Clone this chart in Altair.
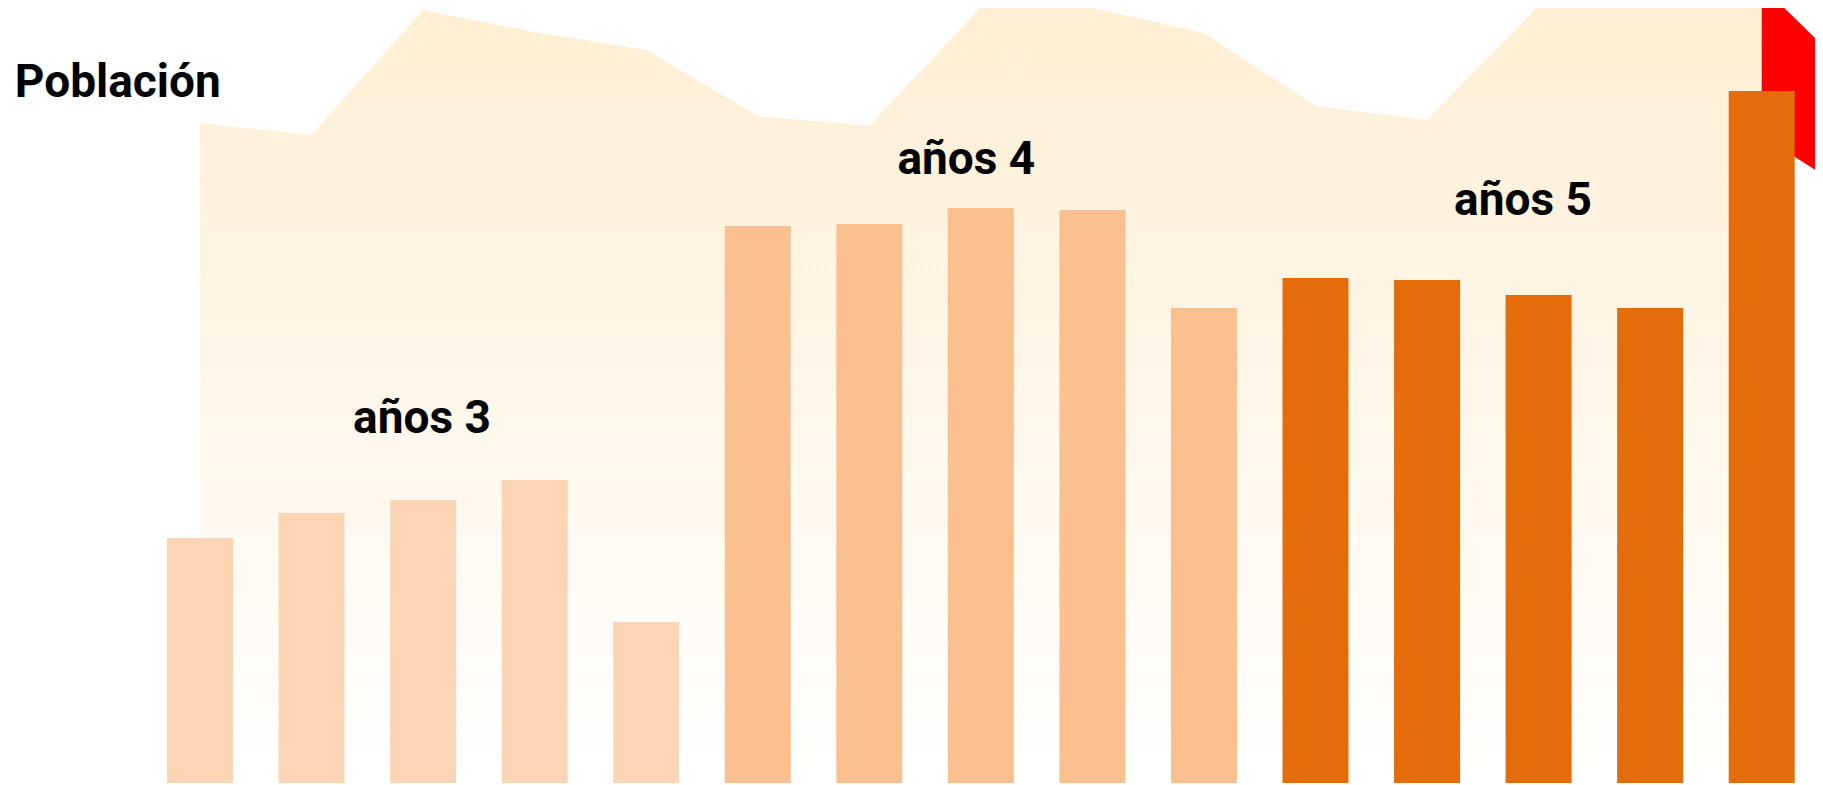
import altair as alt
import pandas as pd

# Bar index (position along the axis) and values
positions = list(range(15))
groups = ["años 3"] * 5 + ["años 4"] * 5 + ["años 5"] * 5
bar_values = [247, 272, 285, 305, 163, 559, 561, 577, 575, 477, 507, 505, 490, 477, 694]
area_values = [662, 650, 775, 753, 735, 669, 659, 778, 777, 752, 679, 665, 779, 777, 777]

# Red shape behind the area
red_x = [13.02, 13.07, 14.13, 14.55]
red_top = [785, 785, 785, 739]
red_bottom = [785, 777, 640, 610]

# Text labels
label_text = ["años 3", "años 4", "años 5"]
label_x = [1.99, 6.87, 11.86]
label_y = [352, 611, 570]
title_text = ["Población"]
title_x = [-1.66]
title_y = [688]

FONT = "Roboto"
FONT_SIZE = 46
bar_colors = ["#FCD5B5", "#FAC090", "#E46C0A"]

x_scale = alt.Scale(domain=[-1.7212, 14.4778], nice=False, zero=False, padding=0)
y_scale = alt.Scale(domain=[2, 777], nice=False, zero=False, padding=0)

df = pd.DataFrame({"pos": positions, "group": groups, "bar": bar_values, "area": area_values})
red_df = pd.DataFrame({"x": red_x, "top": red_top, "bottom": red_bottom})
lab_df = pd.DataFrame({"t": label_text, "x": label_x, "y": label_y})
tit_df = pd.DataFrame({"t": title_text, "x": title_x, "y": title_y})

red = alt.Chart(red_df).mark_area(color="#FF0000", clip=False).encode(
    x=alt.X("x:Q", scale=x_scale, axis=None),
    y=alt.Y("top:Q", scale=y_scale, axis=None),
    y2="bottom:Q",
)

area = alt.Chart(df).mark_area(
    line=False,
    color=alt.Gradient(
        gradient="linear", x1=0, y1=0, x2=0, y2=1,
        stops=[alt.GradientStop(offset=0, color="#FFEFD4"),
               alt.GradientStop(offset=1, color="#FFFFFF")],
    ),
).encode(
    x=alt.X("pos:Q", scale=x_scale, axis=None),
    y=alt.Y("area:Q", scale=y_scale, axis=None),
)

bars = alt.Chart(df).mark_bar(size=66).encode(
    x=alt.X("pos:Q", scale=x_scale, axis=None),
    y=alt.Y("bar:Q", scale=y_scale, axis=None),
    color=alt.Color("group:N", scale=alt.Scale(domain=label_text, range=bar_colors), legend=None),
)

labels = alt.Chart(lab_df).mark_text(
    font=FONT, fontWeight="bold", fontSize=FONT_SIZE, color="#000000", align="center", baseline="alphabetic"
).encode(
    x=alt.X("x:Q", scale=x_scale, axis=None),
    y=alt.Y("y:Q", scale=y_scale, axis=None),
    text="t:N",
)

title = alt.Chart(tit_df).mark_text(
    font=FONT, fontWeight="bold", fontSize=FONT_SIZE, color="#000000", align="left", baseline="alphabetic"
).encode(
    x=alt.X("x:Q", scale=x_scale, axis=None),
    y=alt.Y("y:Q", scale=y_scale, axis=None),
    text="t:N",
)

chart = (red + area + bars + labels + title).properties(
    width=1807, height=775, padding=0, background="white",
    autosize=alt.AutoSizeParams(type="none"),
).configure_view(stroke=None)

chart.save("out.html", embed_options={"renderer": "svg", "actions": False})
